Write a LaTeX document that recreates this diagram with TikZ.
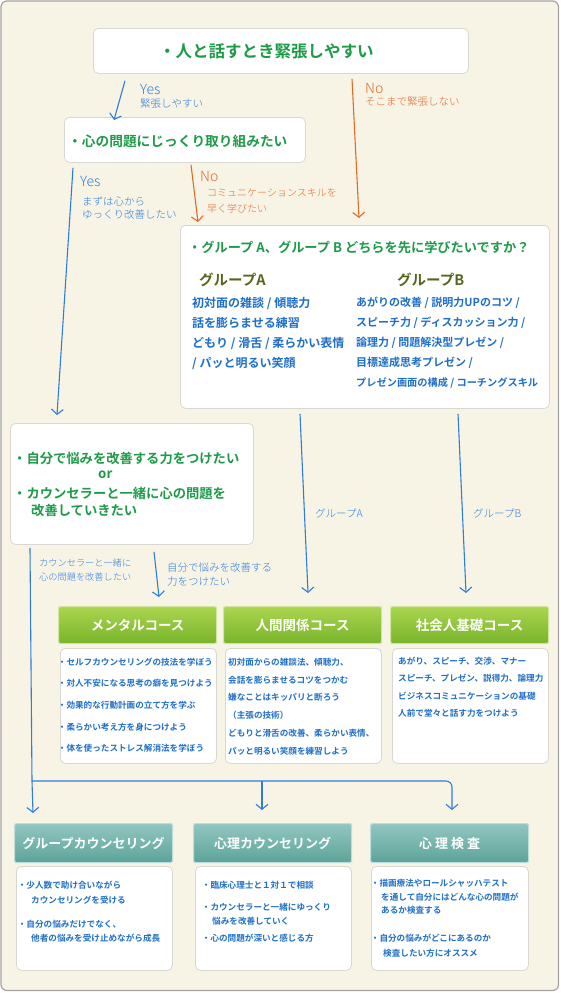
\documentclass[tikz,border=0pt]{standalone}
\usepackage{fontspec}
\setmainfont{Noto Sans CJK JP}[BoldFont={Noto Sans CJK JP Bold}]
\newfontfamily\handfont{Noto Sans CJK JP Light}
\usetikzlibrary{arrows.meta}

\definecolor{paper}{HTML}{F7F4E6}
\definecolor{framegray}{HTML}{A3A3A3}
\definecolor{cardline}{HTML}{D8D8D3}
\definecolor{askgreen}{HTML}{1E9B48}
\definecolor{itemblue}{HTML}{1F6FC8}
\definecolor{olive}{HTML}{56661E}
\definecolor{penblue}{HTML}{2F7DDA}
\definecolor{penorange}{HTML}{E06A28}
\definecolor{greentop}{HTML}{ABD54F}
\definecolor{greenbot}{HTML}{78B42A}
\definecolor{greenrim}{HTML}{CFE5A0}
\definecolor{tealtop}{HTML}{90C7BF}
\definecolor{tealbot}{HTML}{5EA39A}
\definecolor{tealrim}{HTML}{BCDDD8}

\tikzset{
  card/.style={draw=cardline, fill=white, line width=0.8pt, rounded corners=5pt,
    anchor=north west, inner sep=0pt},
  coursehead/.style={draw=greenrim, line width=1.2pt, top color=greentop, bottom color=greenbot,
    rounded corners=2pt, anchor=north west, inner sep=0pt, text=white,
    minimum width=158pt, minimum height=37pt, font=\bfseries\fontsize{13.5}{14}\selectfont},
  testhead/.style={coursehead, draw=tealrim, top color=tealtop, bottom color=tealbot,
    minimum height=39pt, font=\bfseries\fontsize{13}{14}\selectfont},
  ask/.style={anchor=west, inner sep=0pt, text=askgreen, font=\bfseries\fontsize{#1}{#1}\selectfont},
  listitem/.style={anchor=west, inner sep=0pt, text=itemblue, font=\bfseries\fontsize{#1}{#1}\selectfont},
  penlabel/.style={anchor=west, inner sep=0pt, font=\handfont\fontsize{#1}{#1}\selectfont},
  yesarrow/.style={draw=penblue, line width=1.1pt, -{Straight Barb[length=5pt,width=12pt]}},
  noarrow/.style={yesarrow, draw=penorange},
}

\begin{document}
\begin{tikzpicture}[x=1pt,y=-1pt]
  \useasboundingbox (0,0) rectangle (560,993);
  \draw[draw=framegray, fill=paper, line width=1.2pt, rounded corners=6pt] (1,1) rectangle (558.5,990.5);

  % question cards
  \node[card, minimum width=375pt, minimum height=45pt] (tense) at (93,28) {};
  \node[card, minimum width=241pt, minimum height=45pt] (deep) at (64,117) {};
  \node[card, minimum width=369pt, minimum height=183pt] (which) at (180,225) {};
  \node[card, minimum width=243pt, minimum height=121pt] (self) at (10,423) {};

  \node[ask=16.5] (tensetxt) at (159,51) {・人と話すとき緊張しやすい};
  \node[ask=13.7] (deeptxt) at (68,141) {・心の問題にじっくり取り組みたい};
  \node[ask=13.2] (whichtxt) at (188,247) {・グループ A、グループ B どちらを先に学びたいですか？};
  \node[anchor=west, inner sep=0pt, text=olive, font=\bfseries\fontsize{14.5}{15}\selectfont] (headA) at (199,280) {グループA};
  \node[anchor=west, inner sep=0pt, text=olive, font=\bfseries\fontsize{14.5}{15}\selectfont] (headB) at (397,280) {グループB};
  \foreach \t [count=\i] in {初対面の雑談 / 傾聴力, 話を膨らませる練習, どもり / 滑舌 / 柔らかい表情, / パッと明るい笑顔}
    \node[listitem=12] (listA\i) at (192,283+20*\i) {\t};
  \foreach \t [count=\i] in {あがりの改善 / 説明力UPのコツ /, スピーチ力 / ディスカッション力 /,
      論理力 / 問題解決型プレゼン /, 目標達成思考プレゼン /, {\fontsize{10.2}{10.2}\selectfont プレゼン画面の構成 / コーチングスキル}}
    \node[listitem=11] (listB\i) at (356,283+20*\i) {\t};

  \node[ask=13.3] (selftxt1) at (13,458) {・自分で悩みを改善する力をつけたい};
  \node[ask=13.3] (selfor) at (98,475) {or};
  \node[ask=13.3] (selftxt2) at (13,493) {・カウンセラーと一緒に心の問題を};
  \node[ask=13.3] (selftxt3) at (31,510) {改善していきたい};

  % course headers and cards
  \node[coursehead] (mental) at (58,606) {メンタルコース};
  \node[coursehead] (human) at (223,606) {人間関係コース};
  \node[coursehead] (basic) at (390,606) {社会人基礎コース};
  \node[card, minimum width=156pt, minimum height=115pt] (mentalcard) at (60,648) {};
  \node[card, minimum width=156pt, minimum height=115pt] (humancard) at (225,648) {};
  \node[card, minimum width=156pt, minimum height=115pt] (basiccard) at (392,648) {};

  \foreach \y/\t [count=\i] in {662/・セルフカウンセリングの技法を学ぼう, 683/・対人不安になる思考の癖を見つけよう,
      705/・効果的な行動計画の立て方を学ぶ, 727/・柔らかい考え方を身につけよう, 748/・体を使ったストレス解消法を学ぼう}
    \node[listitem=8.6] (mental\i) at (57.7,\y) {\t};
  \foreach \t [count=\i] in {初対面からの雑談法、傾聴力、, 会話を膨らませるコツをつかむ, 嫌なことはキッパリと断ろう,
      （主張の技術）, どもりと滑舌の改善、柔らかい表情、, パッと明るい笑顔を練習しよう}
    \node[listitem=8.6] (human\i) at (228,644.2+17.8*\i) {\t};
  \foreach \t [count=\i] in {あがり、スピーチ、交渉、マナー, スピーチ、プレゼン、説得力、論理力,
      ビジネスコミュニケーションの基礎, 人前で堂々と話す力をつけよう}
    \node[listitem=8.6] (basic\i) at (398,643.6+17.4*\i) {\t};

  % counselling headers and cards
  \node[testhead] (group) at (14,823) {グループカウンセリング};
  \node[testhead] (private) at (193,823) {心理カウンセリング};
  \node[testhead] (exam) at (370,823) {心\hspace{3pt}理\hspace{3pt}検\hspace{3pt}査};
  \node[card, minimum width=156pt, minimum height=104pt] (groupcard) at (16,866) {};
  \node[card, minimum width=156pt, minimum height=104pt] (privatecard) at (195,866) {};
  \node[card, minimum width=157pt, minimum height=104pt] (examcard) at (371,866) {};

  \foreach \x/\y/\t [count=\i] in {17.7/885/・少人数で助け合いながら, 31/900/カウンセリングを受ける,
      17.7/924/・自分の悩みだけでなく、, 31/938/他者の悩みを受け止めながら成長}
    \node[listitem=8.6] (group\i) at (\x,\y) {\t};
  \foreach \x/\y/\t [count=\i] in {201.7/885/・臨床心理士と１対１で相談, 201.7/907/・カウンセラーと一緒にゆっくり,
      212/921/悩みを改善していく, 201.7/938/・心の問題が深いと感じる方}
    \node[listitem=8.6] (private\i) at (\x,\y) {\t};
  \foreach \x/\y/\t [count=\i] in {370.7/883/・描画療法やロールシャッハテスト, 381/897/を通して自分にはどんな心の問題が,
      381/910/あるか検査する, 370.7/938/・自分の悩みがどこにあるのか, 383/953/検査したい方にオススメ}
    \node[listitem=8.6] (exam\i) at (\x,\y) {\t};

  % hand-written arrows
  \draw[yesarrow] ([xshift=32pt,yshift=-7pt]tense.south west) -- ([xshift=50pt,yshift=-3pt]deep.north west);
  \draw[noarrow] ([xshift=259pt,yshift=-5pt]tense.south west) -- ([xshift=179pt,yshift=7pt]which.north west);
  \draw[yesarrow] ([xshift=9pt,yshift=-5pt]deep.south west) -- ([xshift=47pt,yshift=8pt]self.north west);
  \draw[noarrow] ([xshift=127pt,yshift=-2pt]deep.south west) -- ([xshift=18pt,yshift=3pt]which.north west);
  \draw[yesarrow] ([xshift=120pt,yshift=-5pt]which.south west) -- ([xshift=85pt,yshift=13pt]human.north west);
  \draw[yesarrow] ([xshift=278pt,yshift=-5pt]which.south west) -- ([xshift=76pt,yshift=13pt]basic.north west);
  \draw[yesarrow] ([xshift=144pt,yshift=-7pt]self.south west) -- ([xshift=101pt,yshift=9pt]mental.north west);

  \coordinate (fork) at (32,781);
  \coordinate (midtip) at ([xshift=69pt,yshift=13pt]private.north west);
  \draw[yesarrow] ([xshift=20pt,yshift=-3pt]self.south west) -- (fork) -- ([xshift=19pt,yshift=10pt]group.north west);
  \draw[yesarrow, rounded corners=6pt] (fork) -| ([xshift=82pt,yshift=13pt]exam.north west);
  \draw[yesarrow] (fork -| midtip) -- (midtip);

  % hand-written labels
  \node[penlabel=14, text=penblue] (yes1) at (140,89) {Yes};
  \node[penlabel=10.5, text=penblue] (yes1a) at (140,104) {緊張しやすい};
  \node[penlabel=14, text=penorange] (no1) at (365,88) {No};
  \node[penlabel=10.5, text=penorange] (no1a) at (365,102) {そこまで緊張しない};
  \node[penlabel=14, text=penblue] (yes2) at (80,181) {Yes};
  \node[penlabel=10.5, text=penblue] (yes2a) at (82,201) {まずは心から};
  \node[penlabel=10.5, text=penblue] (yes2b) at (82,215) {ゆっくり改善したい};
  \node[penlabel=14, text=penorange] (no2) at (200,176) {No};
  \node[penlabel=10, text=penorange] (no2a) at (207,193) {コミュニケーションスキルを};
  \node[penlabel=10, text=penorange] (no2b) at (207,209) {早く学びたい};
  \node[penlabel=10.5, text=penblue] (toA) at (315,513) {グループA};
  \node[penlabel=10.5, text=penblue] (toB) at (473,513) {グループB};
  \node[penlabel=9.2, text=penblue] (withc1) at (39,563) {カウンセラーと一緒に};
  \node[penlabel=9.2, text=penblue] (withc2) at (39,577) {心の問題を改善したい};
  \node[penlabel=10.5, text=penblue] (byself1) at (167,568) {自分で悩みを改善する};
  \node[penlabel=10.5, text=penblue] (byself2) at (167,582) {力をつけたい};
\end{tikzpicture}
\end{document}
